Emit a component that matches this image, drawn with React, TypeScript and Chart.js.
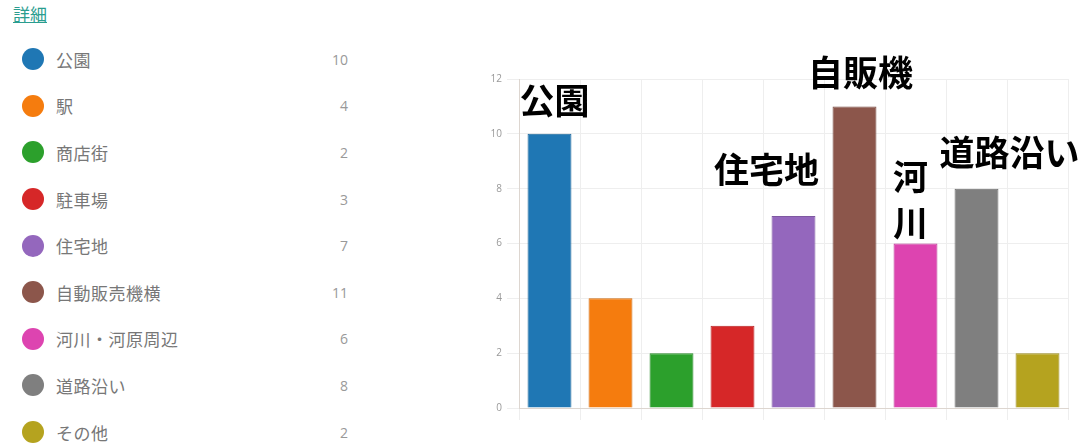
import React, { useEffect, useRef } from 'react';
import { Chart, registerables } from 'chart.js';

Chart.register(...registerables);

const categories = ['公園', '駅', '商店街', '駐車場', '住宅地', '自動販売機横', '河川・河原周辺', '道路沿い', 'その他'];
const counts = [10, 4, 2, 3, 7, 11, 6, 8, 2];
const colors = ['#1f77b4', '#f57c0e', '#2ca02c', '#d62728', '#9467bd', '#8c564b', '#dd44b0', '#7f7f7f', '#b5a31f'];
const yTickMax = 12;
const yTickStep = 2;
const linkText = '詳細';
const annotationIndex = [0, 4, 5, 6, 7];
const annotationText = ['公園', '住宅地', '自販機', '河\n川', '道路沿い'];
// offsets (px) of each annotation's centre from its bar's top centre
const annotationOffset: [number, number][] = [[5, -33], [-27, -46], [6, -34], [-5, -67], [33, -36]];

const darken = (hex: string, f: number) => {
  const n = parseInt(hex.slice(1), 16);
  const r = Math.round(((n >> 16) & 255) * f);
  const g = Math.round(((n >> 8) & 255) * f);
  const b = Math.round((n & 255) * f);
  return `rgb(${r},${g},${b})`;
};

const annotationPlugin = {
  id: 'barAnnotations',
  afterDatasetsDraw(chart: any) {
    const meta = chart.getDatasetMeta(0);
    const ctx = chart.ctx;
    ctx.save();
    ctx.font = 'bold 35px "Noto Sans CJK JP"';
    ctx.fillStyle = '#000';
    ctx.textAlign = 'center';
    ctx.textBaseline = 'middle';
    annotationIndex.forEach((idx, k) => {
      const el = meta.data[idx];
      if (!el) return;
      const [dx, dy] = annotationOffset[k];
      const lines = annotationText[k].split('\n');
      lines.forEach((line, li) => {
        ctx.fillText(line, el.x + dx, el.y + dy + li * 46);
      });
    });
    ctx.restore();
  },
};

export default function App() {
  const canvasRef = useRef<HTMLCanvasElement | null>(null);

  useEffect(() => {
    if (!canvasRef.current) return;
    const chart = new Chart(canvasRef.current, {
      type: 'bar',
      data: {
        labels: categories,
        datasets: [
          {
            data: counts,
            backgroundColor: colors,
            borderColor: colors.map((c) => darken(c, 0.85)),
            borderWidth: 1,
          },
        ],
      },
      plugins: [annotationPlugin],
      options: {
        responsive: false,
        animation: false,
        layout: { padding: { top: 79, right: 18, bottom: 25, left: 0 } },
        plugins: { legend: { display: false }, tooltip: { enabled: false } },
        scales: {
          x: {
            grid: { offset: true, color: '#eeeeee', tickLength: 12 },
            border: { color: '#ddd6d0' },
            ticks: { display: false },
            afterFit: (s: any) => {
              s.height = 12;
            },
          },
          y: {
            min: 0,
            max: yTickMax,
            ticks: {
              stepSize: yTickStep,
              color: '#999',
              padding: 5,
              font: { size: 10, family: '"Open Sans", sans-serif' },
            },
            grid: { color: '#eeeeee', tickLength: 12 },
            border: { color: '#ddd6d0' },
            afterFit: (s: any) => {
              s.width = 49;
            },
          },
        },
      },
    });
    return () => chart.destroy();
  }, []);

  return (
    <div
      style={{
        position: 'absolute',
        left: 0,
        top: 0,
        width: 1086,
        height: 445,
        background: '#fff',
        overflow: 'hidden',
        fontFamily: '"Noto Sans CJK JP", sans-serif',
      }}
    >
      <a
        href="#"
        style={{
          position: 'absolute',
          left: 13,
          top: 3,
          fontSize: 17,
          color: '#2a9d8f',
          textDecoration: 'underline',
          lineHeight: '22px',
        }}
      >
        {linkText}
      </a>
      <div style={{ position: 'absolute', left: 0, top: 36, width: 360 }}>
        {categories.map((c, i) => (
          <div
            key={c}
            style={{ position: 'relative', height: 46.6, display: 'flex', alignItems: 'center' }}
          >
            <span
              style={{
                position: 'absolute',
                left: 22,
                width: 22,
                height: 22,
                borderRadius: '50%',
                background: colors[i],
              }}
            />
            <span style={{ position: 'absolute', left: 56, fontSize: 17, color: '#777', letterSpacing: 0.5 }}>{c}</span>
            <span
              style={{
                position: 'absolute',
                right: 12,
                fontSize: 14,
                color: '#999',
                fontFamily: '"Open Sans", sans-serif',
              }}
            >
              {counts[i]}
            </span>
          </div>
        ))}
      </div>
      <canvas
        ref={canvasRef}
        width={616}
        height={445}
        style={{ position: 'absolute', left: 470, top: 0, width: 616, height: 445 }}
      />
    </div>
  );
}
